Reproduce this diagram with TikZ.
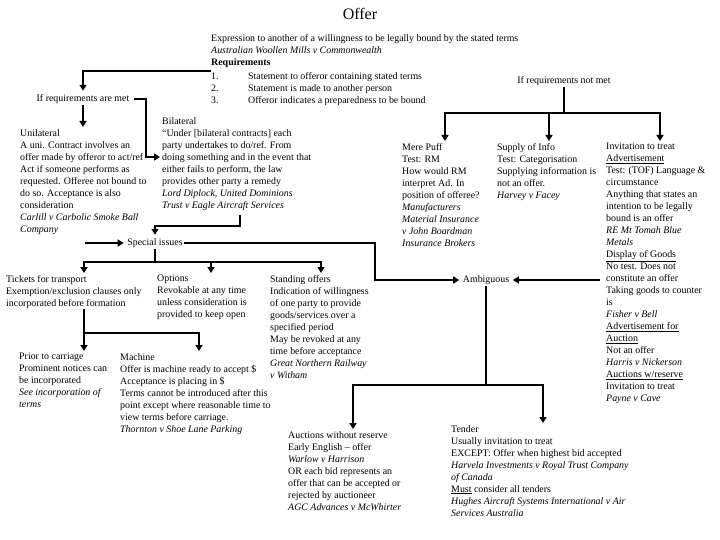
\documentclass[tikz,border=0pt]{standalone}
\usepackage{fontspec}
\setmainfont{Liberation Serif}
\usetikzlibrary{arrows.meta}

\begin{document}
\begin{tikzpicture}[x=1pt,y=-1pt,>={Triangle[length=6pt,width=7pt]},
  txt/.style={anchor=north west,align=left,inner sep=0pt,font=\fontsize{9.9}{12}\selectfont},
  lbl/.style={inner sep=1.5pt,font=\fontsize{9.9}{12}\selectfont},
  link/.style={->,line width=1.8pt,shorten >=2pt},
  bus/.style={line width=1.8pt}]
\useasboundingbox (0,0) rectangle (720,540);
\node[font=\fontsize{16}{18}\selectfont] (title) at (360,14) {Offer};
\node[txt] (main) at (211,34) {Expression to another of a willingness to be legally bound by the stated terms\\
\textit{Australian Woollen Mills v Commonwealth}\\
\textbf{Requirements}\\[2pt]
\makebox[37pt][l]{1.}Statement to offeror containing stated terms\\
\makebox[37pt][l]{2.}Statement is made to another person\\
\makebox[37pt][l]{3.}Offeror indicates a preparedness to be bound};
\node[lbl] (met) at (83,99) {If requirements are met};
\node[lbl] (notmet) at (564,81) {If requirements not met};
% left side
\node[txt] (uni) at (20,129) {Unilateral\\
A uni. Contract involves an\\
offer made by offeror to act/ref\\
Act if someone performs as\\
requested. Offeree not bound to\\
do so. Acceptance is also\\
consideration\\
\textit{Carlill v Carbolic Smoke Ball}\\
\textit{Company}};
\node[txt] (bil) at (162,117) {Bilateral\\
“Under [bilateral contracts] each\\
party undertakes to do/ref. From\\
doing something and in the event that\\
either fails to perform, the law\\
provides other party a remedy\\
\textit{Lord Diplock, United Dominions}\\
\textit{Trust v Eagle Aircraft Services}};
\node[lbl] (special) at (155,243) {Special issues};
\node[txt] (tick) at (6,275) {Tickets for transport\\
Exemption/exclusion clauses only\\
incorporated before formation};
\node[txt] (opt) at (157,275) {Options\\
Revokable at any time\\
unless consideration is\\
provided to keep open};
\node[txt] (stand) at (270,275) {Standing offers\\
Indication of willingness\\
of one party to provide\\
goods/services over a\\
specified period\\
May be revoked at any\\
time before acceptance\\
\textit{Great Northern Railway}\\
\textit{v Witham}};
\node[txt] (prior) at (19,353) {Prior to carriage\\
Prominent notices can\\
be incorporated\\
\textit{See incorporation of}\\
\textit{terms}};
\node[txt] (mach) at (120,353) {Machine\\
Offer is machine ready to accept \$\\
Acceptance is placing in \$\\
Terms cannot be introduced after this\\
point except where reasonable time to\\
view terms before carriage.\\
\textit{Thornton v Shoe Lane Parking}};
% right side
\node[txt] (puff) at (402,143) {Mere Puff\\
Test: RM\\
How would RM\\
interpret Ad. In\\
position of offeree?\\
\textit{Manufacturers}\\
\textit{Material Insurance}\\
\textit{v John Boardman}\\
\textit{Insurance Brokers}};
\node[txt] (info) at (497,143) {Supply of Info\\
Test: Categorisation\\
Supplying information is\\
not an offer.\\
\textit{Harvey v Facey}};
\node[txt] (inv) at (606,143) {Invitation to treat\\
\underline{Advertisement}\\
Test: (TOF) Language \&\\
circumstance\\
Anything that states an\\
intention to be legally\\
bound is an offer\\
\textit{RE Mt Tomah Blue}\\
\textit{Metals}\\
\underline{Display of Goods}\\
No test. Does not\\
constitute an offer\\
Taking goods to counter\\
is\\
\textit{Fisher v Bell}\\
\underline{Advertisement for}\\
\underline{Auction}\\
Not an offer\\
\textit{Harris v Nickerson}\\
\underline{Auctions w/reserve}\\
Invitation to treat\\
\textit{Payne v Cave}};
\node[lbl] (amb) at (486,280) {Ambiguous};
\node[txt] (auc) at (288,431) {Auctions without reserve\\
Early English -- offer\\
\textit{Warlow v Harrison}\\
OR each bid represents an\\
offer that can be accepted or\\
rejected by auctioneer\\
\textit{AGC Advances v McWhirter}};
\node[txt] (tender) at (451,425) {Tender\\
Usually invitation to treat\\
EXCEPT: Offer when highest bid accepted\\
\textit{Harvela Investments v Royal Trust Company}\\
\textit{of Canada}\\
\underline{Must} consider all tenders\\
\textit{Hughes Aircraft Systems International v Air}\\
\textit{Services Australia}};
% connectors
\coordinate (bilout) at (240,215);
\coordinate (uniout) at (85,243);
\coordinate (tickout) at (84,309);
\coordinate (dispout) at (600,280);
\draw[link] (main.west |- 0,71) -| (met.north);
\draw[link] ([xshift=3pt]met.east) -| (146,157) -- (bil.west |- 0,157);
\draw[link] (met.south) -- (met.south |- uni.north);
\draw[link] (bilout) |- (special.north |- 0,226) -- (special.north);
\draw[link] (uniout) -- (special.west);
\draw[link] (special.east) -| (amb.west -| 375,0) -- (amb.west);
\draw[bus] (special.south) -- (special.south |- 0,262);
\draw[link] (special.south |- 0,262) -| (tick.north -| 84,0);
\draw[link] (special.south |- 0,262) -| (stand.north -| 321,0);
\draw[link] (211,262) -- (opt.north -| 211,0);
\draw[bus] (tickout) -- (84,333);
\draw[link] (84,333) -- (prior.north -| 84,0);
\draw[link] (84,333) -| (mach.north -| 199,0);
\draw[bus] (notmet.south) -- (notmet.south |- 0,113);
\draw[link] (notmet.south |- 0,113) -| (puff.north -| 445,0);
\draw[link] (notmet.south |- 0,113) -| (inv.north -| 660,0);
\draw[link] (549,113) -- (info.north -| 549,0);
\draw[link] (dispout) -- (amb.east);
\draw[bus] (amb.south) -- (amb.south |- 0,385);
\draw[link] (amb.south |- 0,385) -| (auc.north -| 353,0);
\draw[link] (amb.south |- 0,385) -| (tender.north -| 543,0);
\end{tikzpicture}
\end{document}
